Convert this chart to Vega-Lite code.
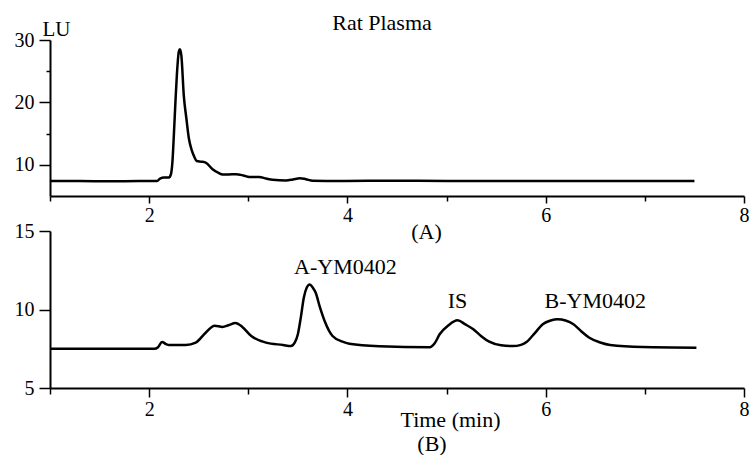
{
  "$schema": "https://vega.github.io/schema/vega-lite/v6.json",
  "padding": {"left": 14, "top": 12, "right": 0, "bottom": 0},
  "bounds": "flush",
  "spacing": 35,
  "config": {
    "font": "Liberation Serif, Times New Roman, serif",
    "view": {"stroke": null},
    "axis": {
      "grid": false,
      "domainColor": "black",
      "domainWidth": 2,
      "tickColor": "black",
      "tickWidth": 1.5,
      "labelFont": "Liberation Serif, Times New Roman, serif",
      "labelFontSize": 20,
      "labelColor": "black",
      "labelFlush": false,
      "labelOverlap": false,
      "titleFont": "Liberation Serif, Times New Roman, serif",
      "titleFontSize": 22,
      "titleFontWeight": "normal",
      "titleColor": "black"
    }
  },
  "datasets": {
    "plasmaA": [
      {"t": 1.0, "v": 7.4}, {"t": 1.3, "v": 7.4}, {"t": 1.6, "v": 7.35}, {"t": 1.9, "v": 7.4},
      {"t": 2.08, "v": 7.4}, {"t": 2.11, "v": 7.8}, {"t": 2.15, "v": 7.95}, {"t": 2.2, "v": 7.95},
      {"t": 2.22, "v": 8.5}, {"t": 2.235, "v": 10.5}, {"t": 2.25, "v": 15}, {"t": 2.265, "v": 20},
      {"t": 2.28, "v": 24.5}, {"t": 2.3, "v": 28.2}, {"t": 2.31, "v": 28.5}, {"t": 2.325, "v": 27.5},
      {"t": 2.35, "v": 21}, {"t": 2.375, "v": 17.5}, {"t": 2.4, "v": 14.3}, {"t": 2.43, "v": 12.3},
      {"t": 2.455, "v": 11.3}, {"t": 2.48, "v": 10.6}, {"t": 2.53, "v": 10.5}, {"t": 2.57, "v": 10.35},
      {"t": 2.64, "v": 9.3}, {"t": 2.7, "v": 8.7}, {"t": 2.74, "v": 8.45}, {"t": 2.8, "v": 8.45},
      {"t": 2.875, "v": 8.5}, {"t": 2.95, "v": 8.3}, {"t": 3.01, "v": 8.05}, {"t": 3.11, "v": 8.05},
      {"t": 3.18, "v": 7.8}, {"t": 3.245, "v": 7.6}, {"t": 3.38, "v": 7.5}, {"t": 3.45, "v": 7.65},
      {"t": 3.52, "v": 7.85}, {"t": 3.58, "v": 7.7}, {"t": 3.65, "v": 7.45}, {"t": 3.92, "v": 7.4},
      {"t": 4.5, "v": 7.45}, {"t": 5.0, "v": 7.4}, {"t": 5.5, "v": 7.4}, {"t": 6.0, "v": 7.4},
      {"t": 6.5, "v": 7.4}, {"t": 7.0, "v": 7.4}, {"t": 7.5, "v": 7.4}
    ],
    "plasmaB": [
      {"t": 1.0, "v": 7.5}, {"t": 1.5, "v": 7.5}, {"t": 2.05, "v": 7.5}, {"t": 2.09, "v": 7.6},
      {"t": 2.13, "v": 7.93}, {"t": 2.17, "v": 7.8}, {"t": 2.2, "v": 7.74}, {"t": 2.37, "v": 7.74},
      {"t": 2.47, "v": 7.89}, {"t": 2.57, "v": 8.52}, {"t": 2.66, "v": 8.97}, {"t": 2.74, "v": 8.89},
      {"t": 2.8, "v": 9.0}, {"t": 2.87, "v": 9.14}, {"t": 2.94, "v": 8.89}, {"t": 3.03, "v": 8.31},
      {"t": 3.18, "v": 7.89}, {"t": 3.35, "v": 7.74}, {"t": 3.43, "v": 7.67}, {"t": 3.47, "v": 7.9},
      {"t": 3.5, "v": 8.42}, {"t": 3.53, "v": 9.5}, {"t": 3.56, "v": 10.75}, {"t": 3.59, "v": 11.4},
      {"t": 3.62, "v": 11.6}, {"t": 3.65, "v": 11.4}, {"t": 3.68, "v": 11.07}, {"t": 3.72, "v": 10.2},
      {"t": 3.77, "v": 9.27}, {"t": 3.85, "v": 8.31}, {"t": 3.95, "v": 7.95}, {"t": 4.02, "v": 7.82},
      {"t": 4.32, "v": 7.66}, {"t": 4.83, "v": 7.6}, {"t": 4.88, "v": 7.85}, {"t": 4.93, "v": 8.42},
      {"t": 5.02, "v": 9.0}, {"t": 5.11, "v": 9.31}, {"t": 5.19, "v": 9.05}, {"t": 5.27, "v": 8.74},
      {"t": 5.35, "v": 8.3}, {"t": 5.43, "v": 7.95}, {"t": 5.55, "v": 7.72}, {"t": 5.67, "v": 7.67},
      {"t": 5.75, "v": 7.75}, {"t": 5.81, "v": 7.95}, {"t": 5.89, "v": 8.5}, {"t": 5.97, "v": 9.06},
      {"t": 6.05, "v": 9.3}, {"t": 6.12, "v": 9.38}, {"t": 6.2, "v": 9.3}, {"t": 6.28, "v": 9.06},
      {"t": 6.36, "v": 8.6}, {"t": 6.44, "v": 8.2}, {"t": 6.55, "v": 7.9}, {"t": 6.65, "v": 7.74},
      {"t": 6.98, "v": 7.61}, {"t": 7.52, "v": 7.57}
    ],
    "peaks": [
      {"t": 3.98, "v": 12.7, "label": "A-YM0402"},
      {"t": 5.11, "v": 10.57, "label": "IS"},
      {"t": 6.5, "v": 10.57, "label": "B-YM0402"}
    ]
  },
  "vconcat": [
    {
      "width": 694,
      "height": 156,
      "title": {"text": "Rat Plasma", "fontSize": 22, "fontWeight": "normal", "font": "Liberation Serif, Times New Roman, serif", "color": "black", "anchor": "middle", "dx": -15, "offset": -17},
      "data": {"name": "plasmaA"},
      "mark": {"type": "line", "color": "black", "strokeWidth": 2.5, "interpolate": "monotone"},
      "encoding": {
        "x": {
          "field": "t", "type": "quantitative",
          "scale": {"domain": [1, 8], "nice": false},
          "axis": {
            "values": [1, 2, 3, 4, 5, 6, 7, 8],
            "format": "d",
            "labelExpr": "datum.value % 2 == 0 ? datum.label : ''",
            "tickSize": {"condition": {"test": "datum.value % 2 == 0", "value": 7}, "value": 5},
            "title": "(A)", "titleX": 376, "titlePadding": -4
          }
        },
        "y": {
          "field": "v", "type": "quantitative",
          "scale": {"domain": [5, 30], "nice": false, "zero": false},
          "axis": {
            "values": [10, 15, 20, 25, 30],
            "labelExpr": "datum.value % 10 == 0 ? datum.label : ''",
            "tickSize": {"condition": {"test": "datum.value % 10 == 0", "value": 11}, "value": 4},
            "labelPadding": 5,
            "title": "LU", "titleAngle": 0, "titleAlign": "left", "titleBaseline": "alphabetic",
            "titleX": -8, "titleY": -5, "titleFontSize": 21
          }
        }
      }
    },
    {
      "width": 694,
      "height": 157,
      "title": {"text": "(B)", "orient": "bottom", "fontSize": 22, "fontWeight": "normal", "font": "Liberation Serif, Times New Roman, serif", "color": "black", "anchor": "middle", "dx": 35, "offset": 4},
      "layer": [
        {
          "data": {"name": "plasmaB"},
          "mark": {"type": "line", "color": "black", "strokeWidth": 2.5, "interpolate": "monotone"},
          "encoding": {
            "x": {
              "field": "t", "type": "quantitative",
              "scale": {"domain": [1, 8], "nice": false},
              "axis": {
                "values": [1, 2, 3, 4, 5, 6, 7, 8],
                "format": "d",
                "labelExpr": "datum.value % 2 == 0 ? datum.label : ''",
                "tickSize": {"condition": {"test": "datum.value % 2 == 0", "value": 9}, "value": 6},
                "title": "Time (min)",
                "titleX": 400, "titlePadding": -10
              }
            },
            "y": {
              "field": "v", "type": "quantitative",
              "scale": {"domain": [5, 15], "nice": false, "zero": false},
              "axis": {
                "values": [5, 7.5, 10, 12.5, 15],
                "labelExpr": "datum.value % 5 == 0 ? datum.label : ''",
                "tickSize": {"condition": {"test": "datum.value % 5 == 0", "value": 11}, "value": 4},
                "labelPadding": 5,
                "title": null
              }
            }
          }
        },
        {
          "data": {"name": "peaks"},
          "mark": {"type": "text", "fontSize": 22, "font": "Liberation Serif, Times New Roman, serif", "color": "black", "baseline": "middle"},
          "encoding": {
            "x": {"field": "t", "type": "quantitative"},
            "y": {"field": "v", "type": "quantitative"},
            "text": {"field": "label"}
          }
        }
      ]
    }
  ]
}
